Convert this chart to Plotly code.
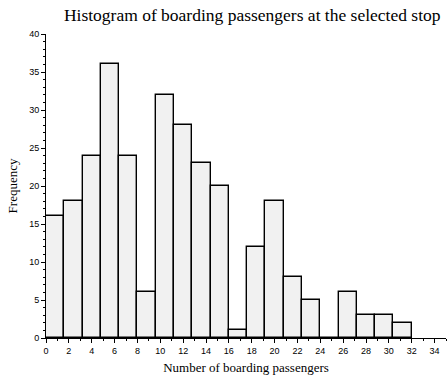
import plotly.graph_objects as go

# Histogram bins (width 1.6) and counts of boarding passengers
bin_start = 0.0
bin_width = 1.6
counts = [16, 18, 24, 36, 24, 6, 32, 28, 23, 20, 1, 12, 18, 8, 5, 0, 6, 3, 3, 2]
x_ticks = list(range(0, 35, 2))
y_ticks = list(range(0, 41, 5))

centers = [bin_start + bin_width * (i + 0.5) for i in range(len(counts))]

fig = go.Figure(
    go.Bar(
        x=centers,
        y=counts,
        width=bin_width,
        marker=dict(color="#f1f1f1", line=dict(color="black", width=1.4)),
        hoverinfo="x+y",
    )
)

serif = "Liberation Serif, DejaVu Serif, serif"
sans = "Liberation Sans, Arial, sans-serif"

fig.update_layout(
    width=448,
    height=381,
    margin=dict(l=46, r=2, t=34, b=43),
    paper_bgcolor="white",
    plot_bgcolor="white",
    showlegend=False,
    bargap=0,
    title=dict(
        text="Histogram of boarding passengers at the selected stop",
        font=dict(family=serif, size=17.5, color="black"),
        x=0.563,
        xanchor="center",
        y=0.962,
        yanchor="middle",
    ),
    xaxis=dict(
        range=[0, 35],
        tickvals=x_ticks,
        ticks="outside",
        ticklen=4,
        tickwidth=1,
        tickcolor="black",
        minor=dict(ticks="outside", dtick=1, tick0=0, ticklen=2, tickcolor="black"),
        showline=True,
        linecolor="black",
        linewidth=1,
        showgrid=False,
        zeroline=False,
        tickfont=dict(family=sans, size=9, color="black"),
        title=dict(
            text="Number of boarding passengers",
            font=dict(family=serif, size=13, color="black"),
            standoff=8,
        ),
    ),
    yaxis=dict(
        range=[0, 40],
        tickvals=y_ticks,
        ticks="outside",
        ticklen=4,
        tickwidth=1,
        tickcolor="black",
        minor=dict(ticks="outside", dtick=1, tick0=0, ticklen=2, tickcolor="black"),
        showline=True,
        linecolor="black",
        linewidth=1,
        showgrid=False,
        zeroline=False,
        tickfont=dict(family=sans, size=9, color="black"),
        title=dict(
            text="Frequency",
            font=dict(family=serif, size=13, color="black"),
            standoff=8,
        ),
    ),
)

fig.write_html("out.html")
